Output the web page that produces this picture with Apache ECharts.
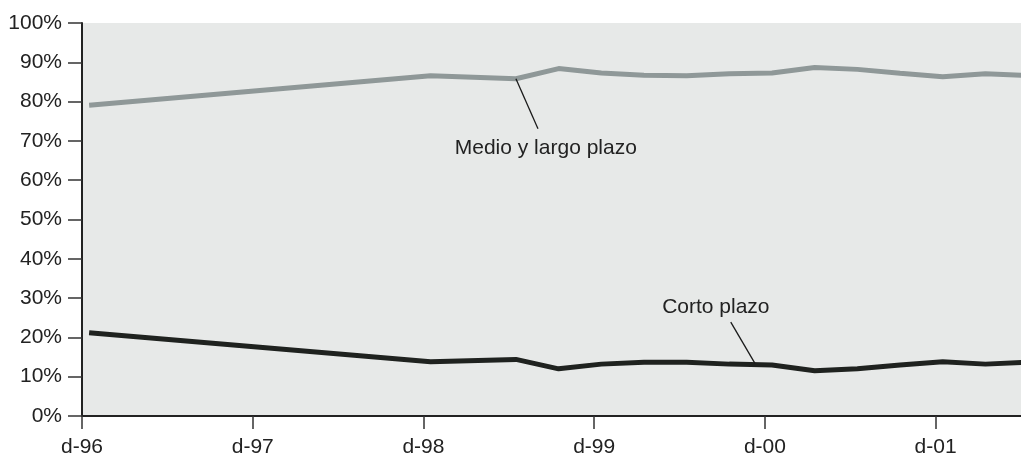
<!DOCTYPE html>
<html>
<head>
<meta charset="utf-8">
<script src="https://cdn.jsdelivr.net/npm/echarts@6/dist/echarts.min.js"></script>
<style>
  html, body { margin: 0; padding: 0; background: #ffffff; }
  #chart { width: 1021px; height: 455px; }
</style>
</head>
<body>
<div id="chart"></div>
<script>
// Months elapsed since December 1996 (observations taken mid-month)
const months = [0.5, 24.5, 30.5, 33.5, 36.5, 39.5, 42.5, 45.5, 48.5, 51.5, 54.5, 57.5, 60.5, 63.5, 66.5];
// Share of total debt, percent
const medioLargo = [79.1, 86.6, 85.8, 88.4, 87.3, 86.7, 86.6, 87.1, 87.3, 88.7, 88.2, 87.2, 86.3, 87.1, 86.6];
const corto      = [21.2, 13.8, 14.4, 12.0, 13.2, 13.7, 13.7, 13.2, 13.0, 11.5, 12.0, 13.0, 13.8, 13.2, 13.7];
// December of each year, as month offsets and their labels
const tickMonths = [0, 12, 24, 36, 48, 60];
const tickLabels = ['d-96', 'd-97', 'd-98', 'd-99', 'd-00', 'd-01'];
// Series callouts: [anchor on line], [leader end], [text centre] in data units
const calloutMedio = { text: 'Medio y largo plazo', anchor: [30.5, 85.8], elbow: [32.05, 73.1], label: [32.6, 68.2] };
const calloutCorto = { text: 'Corto plazo', anchor: [47.3, 13.4], elbow: [45.6, 23.9], label: [44.55, 27.6] };

const FONT = 'Liberation Sans, Arial, sans-serif';
const TEXT = '#222222';
const SIZE = 21;

function pairs(xs, ys) { return xs.map((x, i) => [x, ys[i]]); }

function callout(c) {
  return {
    markLine: {
      silent: true,
      symbol: ['none', 'none'],
      label: { show: false },
      lineStyle: { color: '#1a1a1a', width: 1.3, type: 'solid' },
      data: [[{ coord: c.anchor }, { coord: c.elbow }]]
    },
    markPoint: {
      silent: true,
      symbol: 'circle',
      symbolSize: 0,
      label: {
        show: true, position: 'inside', formatter: c.text,
        color: TEXT, fontFamily: FONT, fontSize: SIZE
      },
      data: [{ coord: c.label }]
    }
  };
}

const chart = echarts.init(document.getElementById('chart'), null, { renderer: 'canvas' });
chart.setOption({
  animation: false,
  backgroundColor: '#ffffff',
  grid: {
    left: 82, right: 0, top: 23, bottom: 39,
    outerBoundsMode: 'none', containLabel: false,
    show: true, backgroundColor: '#e7e9e8', borderWidth: 0
  },
  xAxis: {
    type: 'value', min: 0, max: 66, interval: 12,
    splitLine: { show: false },
    axisLine: { show: true, lineStyle: { color: '#222222', width: 2 } },
    axisTick: { show: true, customValues: tickMonths, length: 13, lineStyle: { color: '#333333', width: 1.5 } },
    axisLabel: {
      customValues: tickMonths,
      formatter: v => tickLabels[tickMonths.indexOf(v)] || '',
      margin: 21, color: TEXT, fontFamily: FONT, fontSize: SIZE
    }
  },
  yAxis: {
    type: 'value', min: 0, max: 100, interval: 10,
    splitLine: { show: false },
    axisLine: { show: true, lineStyle: { color: '#222222', width: 2 } },
    axisTick: { show: true, length: 14, lineStyle: { color: '#333333', width: 1.5 } },
    axisLabel: {
      formatter: '{value}%', margin: 20,
      color: TEXT, fontFamily: FONT, fontSize: SIZE
    }
  },
  series: [
    Object.assign({
      name: 'Medio y largo plazo', type: 'line', data: pairs(months, medioLargo),
      symbol: 'none', clip: true,
      lineStyle: { color: '#8f9898', width: 5 }
    }, callout(calloutMedio)),
    Object.assign({
      name: 'Corto plazo', type: 'line', data: pairs(months, corto),
      symbol: 'none', clip: true,
      lineStyle: { color: '#1f221f', width: 5 }
    }, callout(calloutCorto))
  ]
});
</script>
</body>
</html>
